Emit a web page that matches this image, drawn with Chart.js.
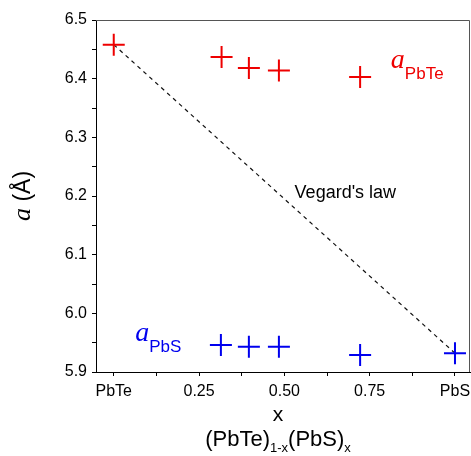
<!DOCTYPE html>
<html>
<head>
<meta charset="utf-8">
<script src="https://cdn.jsdelivr.net/npm/chart.js@4.4.1/dist/chart.umd.min.js"></script>
<style>
  html, body { margin: 0; padding: 0; background: #fff; }
  #wrap { width: 471px; height: 456px; }
</style>
</head>
<body>
<div id="wrap"><canvas id="latticeChart"></canvas></div>
<script>
// lattice parameter a (Å) vs composition x of (PbTe)1-x(PbS)x
const pbteX = [0, 0.316, 0.396, 0.484, 0.722];
const pbteA = [6.458, 6.437, 6.418, 6.414, 6.403];
const pbsX = [0.314, 0.396, 0.484, 0.722, 1.0];
const pbsA = [5.946, 5.943, 5.943, 5.929, 5.932];
const vegardX = [0, 1];
const vegardA = [6.458, 5.932];

const xTickValues = [0, 0.125, 0.25, 0.375, 0.5, 0.625, 0.75, 0.875, 1];
const xTickLabels = ['PbTe', '', '0.25', '', '0.50', '', '0.75', '', 'PbS'];
const yTickValues = [5.9, 5.95, 6.0, 6.05, 6.1, 6.15, 6.2, 6.25, 6.3, 6.35, 6.4, 6.45, 6.5];
const yTickLabels = ['5.9', '', '6.0', '', '6.1', '', '6.2', '', '6.3', '', '6.4', '', '6.5'];

const SANS = '"Liberation Sans", Arial, sans-serif';
const SERIF = '"Liberation Serif", "Times New Roman", serif';
const RED = 'rgb(238, 0, 0)';
const BLUE = 'rgb(0, 0, 238)';

function toPoints(xs, ys) {
  return xs.map((x, i) => ({ x, y: ys[i] }));
}

// draws a run of text pieces (with subscripts) starting at x
function drawRun(ctx, x, y, parts, align) {
  let total = 0;
  parts.forEach(p => { ctx.font = p.font; total += ctx.measureText(p.text).width; });
  let cx = align === 'center' ? x - total / 2 : x;
  parts.forEach(p => {
    ctx.font = p.font;
    ctx.fillStyle = p.color;
    ctx.fillText(p.text, cx, y + (p.dy || 0));
    cx += ctx.measureText(p.text).width;
  });
}

const labelsPlugin = {
  id: 'labelsPlugin',
  afterDraw(chart) {
    const { ctx, chartArea, scales } = chart;
    const xs = scales.x, ys = scales.y;
    ctx.save();
    // top and right frame
    ctx.strokeStyle = '#555';
    ctx.lineWidth = 1;
    ctx.beginPath();
    ctx.moveTo(chartArea.left, chartArea.top + 0.5);
    ctx.lineTo(chartArea.right - 0.5, chartArea.top + 0.5);
    ctx.lineTo(chartArea.right - 0.5, chartArea.bottom);
    ctx.stroke();

    // x tick labels (drawn here so the labels do not shrink the plot)
    ctx.textAlign = 'center';
    ctx.textBaseline = 'alphabetic';
    ctx.fillStyle = '#000';
    ctx.font = '16px ' + SANS;
    xTickValues.forEach((v, i) => {
      if (xTickLabels[i]) ctx.fillText(xTickLabels[i], xs.getPixelForValue(v), chartArea.bottom + 24);
    });
    ctx.textAlign = 'left';

    drawRun(ctx, xs.getPixelForValue(0.812), ys.getPixelForValue(6.418), [
      { text: 'a', font: 'italic 28px ' + SERIF, color: RED },
      { text: 'PbTe', font: '17px ' + SANS, color: RED, dy: 11 }
    ]);
    drawRun(ctx, xs.getPixelForValue(0.063), ys.getPixelForValue(5.953), [
      { text: 'a', font: 'italic 28px ' + SERIF, color: BLUE },
      { text: 'PbS', font: '17px ' + SANS, color: BLUE, dy: 11 }
    ]);
    drawRun(ctx, xs.getPixelForValue(0.53), ys.getPixelForValue(6.196), [
      { text: "Vegard's law", font: '18px ' + SANS, color: '#000' }
    ]);

    // x axis titles
    const midX = (chartArea.left + chartArea.right) / 2 - 5;
    drawRun(ctx, midX, 421, [{ text: 'x', font: '21px ' + SANS, color: '#000' }], 'center');
    drawRun(ctx, midX, 446, [
      { text: '(PbTe)', font: '22px ' + SANS, color: '#000' },
      { text: '1-x', font: '13px ' + SANS, color: '#000', dy: 6 },
      { text: '(PbS)', font: '22px ' + SANS, color: '#000' },
      { text: 'x', font: '13px ' + SANS, color: '#000', dy: 6 }
    ], 'center');

    // y axis title, rotated
    ctx.translate(30, (chartArea.top + chartArea.bottom) / 2);
    ctx.rotate(-Math.PI / 2);
    drawRun(ctx, 0, 0, [
      { text: 'a ', font: 'italic 26px ' + SERIF, color: '#000' },
      { text: '(Å)', font: '23px ' + SANS, color: '#000' }
    ], 'center');
    ctx.restore();
  }
};

const markerStyle = {
  showLine: false,
  pointStyle: 'cross',
  pointRadius: 11,
  pointHoverRadius: 11,
  pointBorderWidth: 2,
  pointHoverBorderWidth: 2
};

new Chart(document.getElementById('latticeChart'), {
  type: 'scatter',
  data: {
    datasets: [
      {
        label: 'a PbTe',
        data: toPoints(pbteX, pbteA),
        borderColor: RED,
        backgroundColor: RED,
        ...markerStyle
      },
      {
        label: 'a PbS',
        data: toPoints(pbsX, pbsA),
        borderColor: BLUE,
        backgroundColor: BLUE,
        ...markerStyle
      },
      {
        label: "Vegard's law",
        data: toPoints(vegardX, vegardA),
        showLine: true,
        borderColor: '#111',
        borderWidth: 1.2,
        borderDash: [4, 4],
        pointRadius: 0
      }
    ]
  },
  options: {
    responsive: true,
    maintainAspectRatio: false,
    animation: false,
    clip: false,
    layout: { autoPadding: false, padding: { left: 0, top: 20, right: 1, bottom: 0 } },
    plugins: {
      legend: { display: false },
      tooltip: { enabled: false }
    },
    scales: {
      x: {
        type: 'linear',
        min: -0.052,
        max: 1.044,
        afterBuildTicks: scale => { scale.ticks = xTickValues.map(v => ({ value: v })); },
        afterFit: scale => {
          scale.height = 84;
          scale.paddingLeft = 0;
          scale.paddingRight = 0;
        },
        ticks: { display: false },
        grid: { drawOnChartArea: false, tickLength: 4, color: '#000' },
        border: { color: '#000', width: 1 }
      },
      y: {
        min: 5.9,
        max: 6.5,
        afterBuildTicks: scale => { scale.ticks = yTickValues.map(v => ({ value: v })); },
        afterFit: scale => {
          scale.width = 96;
          scale.paddingTop = 0;
          scale.paddingBottom = 0;
        },
        ticks: {
          autoSkip: false,
          color: '#000',
          padding: 5,
          font: { family: SANS, size: 16 },
          callback: (v) => {
            const i = yTickValues.findIndex(t => Math.abs(t - v) < 1e-6);
            return i >= 0 ? yTickLabels[i] : '';
          }
        },
        grid: { drawOnChartArea: false, tickLength: 4, color: '#000' },
        border: { color: '#000', width: 1 }
      }
    }
  },
  plugins: [labelsPlugin]
});
</script>
</body>
</html>
